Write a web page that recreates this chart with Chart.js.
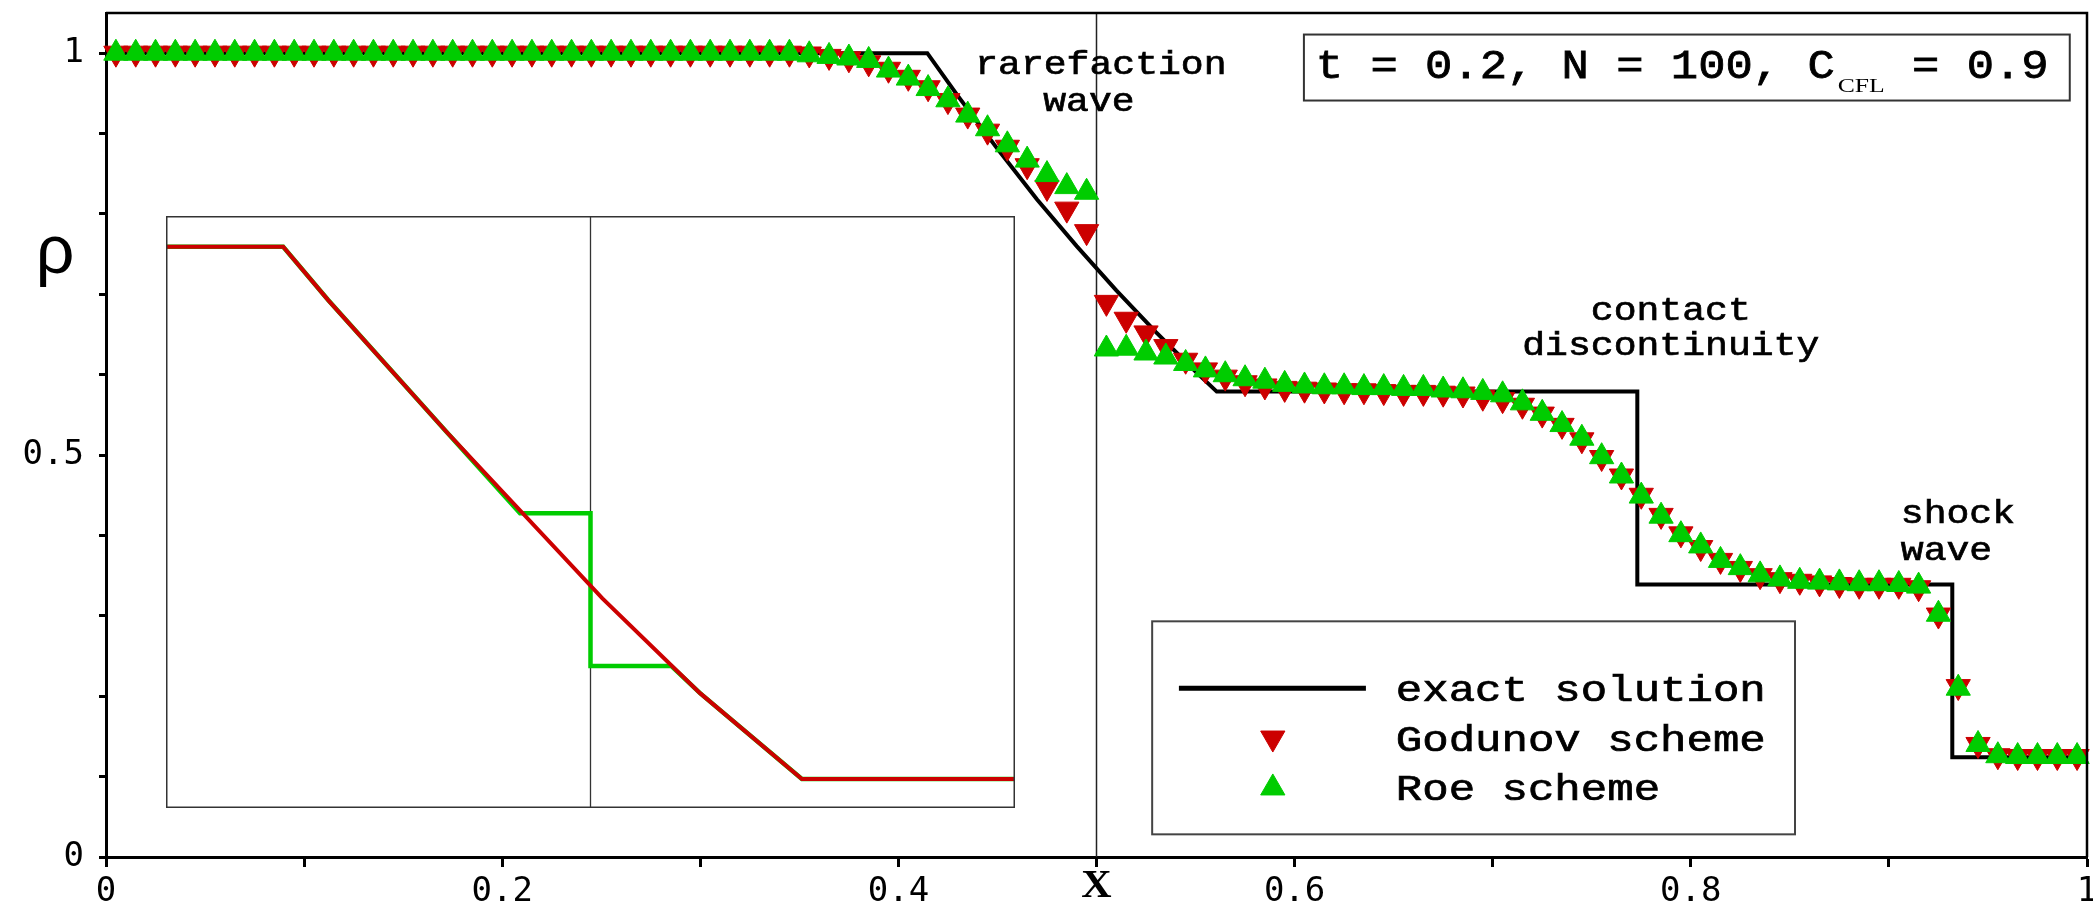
<!DOCTYPE html>
<html>
<head>
<meta charset="utf-8">
<title>Density profile: Godunov vs Roe</title>
<script src="https://cdn.jsdelivr.net/npm/chart.js@4.4.1/dist/chart.umd.min.js"></script>
<style>
    html, body { margin: 0; padding: 0; background: #fff; }
    #wrap { position: relative; width: 2093px; height: 908px; }
    #main-box { position: absolute; left: 0; top: 0; width: 2093px; height: 908px; }
    #inset-box { position: absolute; left: 166px; top: 216px; width: 849px; height: 592px; }
</style>
</head>
<body>
<div id="wrap">
    <div id="main-box"><canvas id="chart-main"></canvas></div>
    <div id="inset-box"><canvas id="chart-inset"></canvas></div>
</div>
<script>
// ===== DATA =====
// cell centres, N = 100
const cellX = [
    0.005, 0.015, 0.025, 0.035, 0.045, 0.055, 0.065, 0.075, 0.085, 0.095,
    0.105, 0.115, 0.125, 0.135, 0.145, 0.155, 0.165, 0.175, 0.185, 0.195,
    0.205, 0.215, 0.225, 0.235, 0.245, 0.255, 0.265, 0.275, 0.285, 0.295,
    0.305, 0.315, 0.325, 0.335, 0.345, 0.355, 0.365, 0.375, 0.385, 0.395,
    0.405, 0.415, 0.425, 0.435, 0.445, 0.455, 0.465, 0.475, 0.485, 0.495,
    0.505, 0.515, 0.525, 0.535, 0.545, 0.555, 0.565, 0.575, 0.585, 0.595,
    0.605, 0.615, 0.625, 0.635, 0.645, 0.655, 0.665, 0.675, 0.685, 0.695,
    0.705, 0.715, 0.725, 0.735, 0.745, 0.755, 0.765, 0.775, 0.785, 0.795,
    0.805, 0.815, 0.825, 0.835, 0.845, 0.855, 0.865, 0.875, 0.885, 0.895,
    0.905, 0.915, 0.925, 0.935, 0.945, 0.955, 0.965, 0.975, 0.985, 0.995
];

const godunovRho = [
    1, 1, 1, 1, 1, 1, 1, 1, 1, 1,
    1, 1, 1, 1, 1, 1, 1, 1, 1, 1,
    1, 1, 1, 1, 1, 1, 1, 1, 1, 1,
    1, 1, 1, 1, 1, 0.999, 0.996, 0.993, 0.988, 0.980,
    0.970, 0.957, 0.941, 0.923, 0.903, 0.883, 0.860, 0.833, 0.806, 0.778,
    0.690, 0.669, 0.652, 0.635, 0.618, 0.606, 0.597, 0.590, 0.586, 0.583,
    0.582, 0.581, 0.580, 0.580, 0.579, 0.578, 0.578, 0.577, 0.576, 0.572,
    0.569, 0.562, 0.551, 0.537, 0.519, 0.497, 0.474, 0.450, 0.425, 0.402,
    0.385, 0.369, 0.359, 0.350, 0.345, 0.343, 0.341, 0.339, 0.338, 0.338,
    0.338, 0.335, 0.301, 0.212, 0.140, 0.126, 0.125, 0.125, 0.125, 0.125
];

const roeRho = [
    1, 1, 1, 1, 1, 1, 1, 1, 1, 1,
    1, 1, 1, 1, 1, 1, 1, 1, 1, 1,
    1, 1, 1, 1, 1, 1, 1, 1, 1, 1,
    1, 1, 1, 1, 1, 0.998, 0.996, 0.994, 0.991, 0.979,
    0.969, 0.956, 0.942, 0.923, 0.906, 0.886, 0.867, 0.849, 0.834, 0.827,
    0.632, 0.633, 0.627, 0.622, 0.614, 0.606, 0.600, 0.595, 0.592, 0.588,
    0.586, 0.585, 0.585, 0.584, 0.584, 0.583, 0.583, 0.581, 0.580, 0.578,
    0.575, 0.565, 0.552, 0.538, 0.521, 0.498, 0.474, 0.449, 0.424, 0.401,
    0.387, 0.369, 0.360, 0.351, 0.346, 0.343, 0.342, 0.341, 0.340, 0.340,
    0.339, 0.337, 0.302, 0.210, 0.140, 0.126, 0.125, 0.125, 0.125, 0.125
];

const exactX   = [0, 0.4146, 0.43, 0.45, 0.47, 0.49, 0.51, 0.53, 0.55, 0.5607, 0.773, 0.773, 0.932, 0.932, 1];
const exactRho = [1, 1, 0.947, 0.881, 0.818, 0.760, 0.705, 0.653, 0.604, 0.579, 0.579, 0.339, 0.339, 0.124, 0.124];

const xTickValues = [0, 0.1, 0.2, 0.3, 0.4, 0.5, 0.6, 0.7, 0.8, 0.9, 1];
const xTickLabels = ['0', '', '0.2', '', '0.4', '', '0.6', '', '0.8', '', '1'];
const yTickValues = [0, 0.1, 0.2, 0.3, 0.4, 0.5, 0.6, 0.7, 0.8, 0.9, 1];
const yTickLabels = ['0', '', '', '', '', '0.5', '', '', '', '', '1'];
const xAxisTitle = 'X';
const yAxisTitle = 'ρ';

const seriesNames = ['exact solution', 'Godunov scheme', 'Roe scheme'];
const runInfo = ['t = 0.2, N = 100, C', 'CFL', ' = 0.9'];

// inset: close-up of the sonic point (normalised inset coordinates)
const insetGodunovX   = [0, 0.138, 0.191, 0.330, 0.514, 0.629, 0.749, 1];
const insetGodunovRho = [0.948, 0.948, 0.858, 0.636, 0.354, 0.194, 0.049, 0.049];
const insetRoeX   = [0, 0.138, 0.191, 0.330, 0.417, 0.5, 0.5, 0.595, 0.629, 0.749, 1];
const insetRoeRho = [0.948, 0.948, 0.858, 0.636, 0.498, 0.498, 0.240, 0.240, 0.194, 0.049, 0.049];

// ===== STYLE =====
const RED = '#cc0000';
const GREEN = '#00cc00';
const MONO = '"Liberation Mono", "Courier New", monospace';
const TICK_FONT = { family: '"DejaVu Sans Mono", monospace', size: 34 };

// text labels placed in data coordinates
const notes = [
    { text: 'rarefaction', x: 0.5022, y: 0.974, align: 'center' },
    { text: 'wave', x: 0.4962, y: 0.9287, align: 'center' },
    { text: 'contact', x: 0.7899, y: 0.6675, align: 'center' },
    { text: 'discontinuity', x: 0.7899, y: 0.624, align: 'center' },
    { text: 'shock', x: 0.906, y: 0.4151, align: 'left' },
    { text: 'wave', x: 0.906, y: 0.3691, align: 'left' }
];

function zip(xs, ys) {
    return xs.map((x, i) => ({ x: x, y: ys[i] }));
}

// draws text stretched horizontally by sx, returns drawn width
function drawText(ctx, text, x, y, font, sx, align, heavy) {
    ctx.save();
    ctx.font = font;
    const w = ctx.measureText(text).width * sx;
    let x0 = x;
    if (align === 'center') x0 = x - w / 2;
    if (align === 'right') x0 = x - w;
    ctx.translate(x0, y);
    ctx.scale(sx, 1);
    ctx.textAlign = 'left';
    ctx.textBaseline = 'alphabetic';
    ctx.fillStyle = '#000';
    ctx.fillText(text, 0, 0);
    if (heavy) {
        ctx.strokeStyle = '#000';
        ctx.lineWidth = heavy;
        ctx.strokeText(text, 0, 0);
    }
    ctx.restore();
    return w;
}

function drawMarker(ctx, x, y, color, rotation) {
    ctx.save();
    ctx.fillStyle = color;
    ctx.strokeStyle = color;
    ctx.lineWidth = 1;
    Chart.helpers.drawPoint(ctx, { pointStyle: 'triangle', rotation: rotation, radius: 14, borderWidth: 1 }, x, y);
    ctx.restore();
}

// ===== MAIN CHART DECORATIONS =====
const decorPlugin = {
    id: 'decor',
    beforeDatasetsDraw(chart) {
        const { ctx, chartArea: a, scales: { x } } = chart;
        const xm = x.getPixelForValue(0.5);
        ctx.save();
        ctx.strokeStyle = '#222';
        ctx.lineWidth = 1.5;
        ctx.beginPath();
        ctx.moveTo(xm, a.top);
        ctx.lineTo(xm, a.bottom);
        ctx.stroke();
        ctx.restore();
    },
    afterDraw(chart) {
        const { ctx, chartArea: a, scales: { x, y } } = chart;
        const px = v => x.getPixelForValue(v);
        const py = v => y.getPixelForValue(v);

        // top and right frame
        ctx.save();
        ctx.strokeStyle = '#000';
        ctx.lineWidth = 2.5;
        ctx.beginPath();
        ctx.moveTo(a.left, a.top);
        ctx.lineTo(a.right, a.top);
        ctx.lineTo(a.right, a.bottom);
        ctx.stroke();
        ctx.restore();

        // axis titles
        drawText(ctx, xAxisTitle, px(0.5), a.bottom + 40, 'bold 40px "Liberation Serif", serif', 1.05, 'center');
        drawText(ctx, yAxisTitle, 55, py(0.726), '68px "Liberation Sans", Arial, sans-serif', 1, 'center');

        // wave annotations
        notes.forEach(n => {
            drawText(ctx, n.text, px(n.x), py(n.y), '34px ' + MONO, 1.12, n.align, 0.7);
        });

        // run parameters box
        ctx.save();
        ctx.strokeStyle = '#333';
        ctx.lineWidth = 2;
        ctx.fillStyle = '#fff';
        const bx0 = px(0.6047), bx1 = px(0.9913), by0 = py(1.0232), by1 = py(0.9411);
        ctx.fillRect(bx0, by0, bx1 - bx0, by1 - by0);
        ctx.strokeRect(bx0, by0, bx1 - bx0, by1 - by0);
        ctx.restore();
        let tx = px(0.6107);
        const tb = py(0.9697);
        tx += drawText(ctx, runInfo[0], tx, tb, '41px ' + MONO, 1.11, 'left', 0.8);
        tx += 3;
        tx += drawText(ctx, runInfo[1], tx, tb + 14, '19px "Liberation Serif", serif', 1.35, 'left');
        drawText(ctx, runInfo[2], tx, tb, '41px ' + MONO, 1.11, 'left', 0.8);

        // legend box
        ctx.save();
        ctx.strokeStyle = '#444';
        ctx.lineWidth = 2;
        const lx0 = px(0.5281), lx1 = px(0.8526), ly0 = py(0.2932), ly1 = py(0.0282);
        ctx.fillStyle = '#fff';
        ctx.fillRect(lx0, ly0, lx1 - lx0, ly1 - ly0);
        ctx.strokeRect(lx0, ly0, lx1 - lx0, ly1 - ly0);
        ctx.strokeStyle = '#000';
        ctx.lineWidth = 5;
        ctx.beginPath();
        ctx.moveTo(px(0.5416), py(0.2098));
        ctx.lineTo(px(0.6360), py(0.2098));
        ctx.stroke();
        ctx.restore();
        drawMarker(ctx, px(0.589), py(0.148), RED, 180);
        drawMarker(ctx, px(0.589), py(0.0859), GREEN, 0);
        const legendY = [0.1937, 0.1315, 0.0705];
        seriesNames.forEach((name, i) => {
            drawText(ctx, name, px(0.6511), py(legendY[i]), '37px ' + MONO, 1.19, 'left', 0.7);
        });
    }
};

// ===== MAIN CHART =====
const mainChart = new Chart(document.getElementById('chart-main'), {
    type: 'scatter',
    data: {
        datasets: [
            {
                label: seriesNames[0],
                data: zip(exactX, exactRho),
                showLine: true,
                borderColor: '#000',
                borderWidth: 4,
                pointRadius: 0,
                order: 3
            },
            {
                label: seriesNames[1],
                data: zip(cellX, godunovRho),
                pointStyle: 'triangle',
                pointRotation: 180,
                pointRadius: 14,
                pointBorderWidth: 1,
                pointBackgroundColor: RED,
                pointBorderColor: RED,
                clip: false,
                order: 2
            },
            {
                label: seriesNames[2],
                data: zip(cellX, roeRho),
                pointStyle: 'triangle',
                pointRadius: 14,
                pointBorderWidth: 1,
                pointBackgroundColor: GREEN,
                pointBorderColor: GREEN,
                clip: false,
                order: 1
            }
        ]
    },
    options: {
        responsive: true,
        maintainAspectRatio: false,
        animation: false,
        events: [],
        layout: { autoPadding: false, padding: { top: 13, right: 6, left: 0, bottom: 0 } },
        plugins: {
            legend: { display: false },
            tooltip: { enabled: false }
        },
        scales: {
            x: {
                type: 'linear',
                min: 0,
                max: 1,
                afterBuildTicks: s => { s.ticks = xTickValues.map(v => ({ value: v })); },
                afterFit: s => { s.height = 51; s.paddingLeft = 0; s.paddingRight = 0; },
                ticks: {
                    callback: (v, i) => xTickLabels[i],
                    autoSkip: false,
                    maxRotation: 0,
                    padding: 5,
                    color: '#000',
                    font: TICK_FONT
                },
                grid: { display: true, drawOnChartArea: false, drawTicks: true, tickLength: 10, tickWidth: 3, tickColor: '#000' },
                border: { display: true, color: '#000', width: 3 }
            },
            y: {
                type: 'linear',
                min: 0,
                max: 1.05,
                afterBuildTicks: s => { s.ticks = yTickValues.map(v => ({ value: v })); },
                afterFit: s => { s.width = 106; s.paddingTop = 0; s.paddingBottom = 0; },
                ticks: {
                    callback: (v, i) => yTickLabels[i],
                    autoSkip: false,
                    padding: 15,
                    color: '#000',
                    font: TICK_FONT
                },
                grid: { display: true, drawOnChartArea: false, drawTicks: true, tickLength: 7, tickWidth: 3, tickColor: '#000' },
                border: { display: true, color: '#000', width: 3 }
            }
        }
    },
    plugins: [decorPlugin]
});

// ===== INSET =====
const insetFrame = {
    id: 'insetFrame',
    beforeDatasetsDraw(chart) {
        const { ctx, chartArea: a, scales: { x } } = chart;
        ctx.save();
        ctx.fillStyle = '#fff';
        ctx.fillRect(a.left, a.top, a.right - a.left, a.bottom - a.top);
        ctx.strokeStyle = '#333';
        ctx.lineWidth = 1.3;
        const xm = x.getPixelForValue(0.5);
        ctx.beginPath();
        ctx.moveTo(xm, a.top);
        ctx.lineTo(xm, a.bottom);
        ctx.stroke();
        ctx.restore();
    },
    afterDraw(chart) {
        const { ctx, chartArea: a } = chart;
        ctx.save();
        ctx.strokeStyle = '#333';
        ctx.lineWidth = 1.5;
        ctx.strokeRect(a.left + 0.75, a.top + 0.75, a.right - a.left - 1.5, a.bottom - a.top - 1.5);
        ctx.restore();
    }
};

const insetChart = new Chart(document.getElementById('chart-inset'), {
    type: 'scatter',
    data: {
        datasets: [
            {
                label: 'Godunov (inset)',
                data: zip(insetGodunovX, insetGodunovRho),
                showLine: true,
                borderColor: RED,
                borderWidth: 4,
                pointRadius: 0,
                order: 1
            },
            {
                label: 'Roe (inset)',
                data: zip(insetRoeX, insetRoeRho),
                showLine: true,
                borderColor: GREEN,
                borderWidth: 4.5,
                pointRadius: 0,
                order: 2
            }
        ]
    },
    options: {
        responsive: true,
        maintainAspectRatio: false,
        animation: false,
        events: [],
        layout: { autoPadding: false, padding: 0 },
        plugins: {
            legend: { display: false },
            tooltip: { enabled: false }
        },
        scales: {
            x: { type: 'linear', min: 0, max: 1, display: false },
            y: { type: 'linear', min: 0, max: 1, display: false }
        }
    },
    plugins: [insetFrame]
});
</script>
</body>
</html>
